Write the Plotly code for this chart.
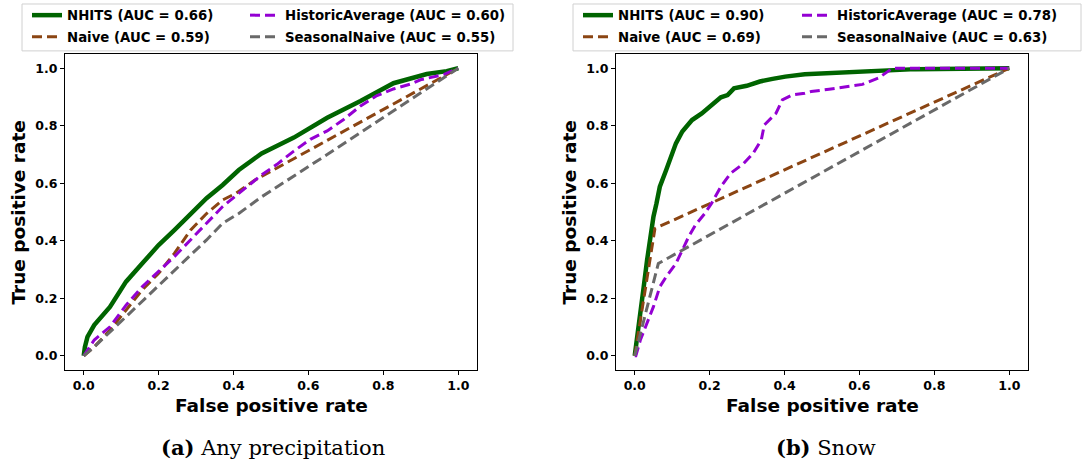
import plotly.graph_objects as go

W, H = 1084, 464

# ---------------- data ----------------
models = ["NHITS", "Naive", "HistoricAverage", "SeasonalNaive"]
auc_a = {"NHITS": 0.66, "Naive": 0.59, "HistoricAverage": 0.60, "SeasonalNaive": 0.55}
auc_b = {"NHITS": 0.90, "Naive": 0.69, "HistoricAverage": 0.78, "SeasonalNaive": 0.63}

# panel (a) Any precipitation
nhits_a_fpr = [0, 0.003, 0.01, 0.028, 0.07, 0.113, 0.156, 0.2, 0.242, 0.285, 0.328, 0.371,
               0.414, 0.457, 0.475, 0.561, 0.65, 0.739, 0.827, 0.916, 0.969, 1.0]
nhits_a_tpr = [0, 0.03, 0.066, 0.107, 0.17, 0.258, 0.321, 0.385, 0.437, 0.495, 0.548, 0.594,
               0.646, 0.687, 0.704, 0.759, 0.828, 0.886, 0.948, 0.98, 0.99, 1.0]
naive_a_fpr = [0, 0.028, 0.07, 0.113, 0.156, 0.2, 0.242, 0.285, 0.328, 0.371, 0.406, 0.457,
               0.65, 0.8, 0.9, 1.0]
naive_a_tpr = [0, 0.031, 0.089, 0.159, 0.229, 0.287, 0.356, 0.437, 0.495, 0.542, 0.565, 0.611,
               0.75, 0.857, 0.93, 1.0]
hist_a_fpr = [0, 0.028, 0.07, 0.113, 0.156, 0.2, 0.242, 0.285, 0.328, 0.371, 0.414, 0.457,
              0.475, 0.516, 0.561, 0.605, 0.65, 0.694, 0.739, 0.783, 0.827, 0.872, 0.899,
              0.961, 1.0]
hist_a_tpr = [0, 0.055, 0.101, 0.176, 0.24, 0.292, 0.345, 0.403, 0.46, 0.519, 0.565, 0.611,
              0.629, 0.666, 0.712, 0.753, 0.782, 0.822, 0.869, 0.905, 0.928, 0.945, 0.96,
              0.978, 1.0]
seas_a_fpr = [0, 0.028, 0.113, 0.2, 0.285, 0.328, 0.371, 0.414, 0.475, 0.65, 0.8, 0.9, 1.0]
seas_a_tpr = [0, 0.031, 0.136, 0.246, 0.35, 0.403, 0.461, 0.495, 0.553, 0.70, 0.83, 0.915, 1.0]

# panel (b) Snow
nhits_b_fpr = [0, 0.007, 0.015, 0.024, 0.033, 0.041, 0.05, 0.058, 0.067, 0.084, 0.101, 0.11,
               0.127, 0.153, 0.179, 0.205, 0.23, 0.248, 0.265, 0.299, 0.334, 0.368, 0.402,
               0.454, 0.55, 0.65, 0.75, 1.0]
nhits_b_tpr = [0, 0.078, 0.159, 0.24, 0.333, 0.414, 0.484, 0.53, 0.588, 0.646, 0.704, 0.739,
               0.78, 0.82, 0.843, 0.872, 0.899, 0.907, 0.93, 0.939, 0.954, 0.963, 0.971,
               0.979, 0.985, 0.99, 0.997, 1.0]
naive_b_fpr = [0, 0.054, 1.0]
naive_b_tpr = [0, 0.443, 1.0]
hist_b_fpr = [0, 0.003, 0.015, 0.033, 0.05, 0.067, 0.084, 0.11, 0.127, 0.144, 0.162, 0.187,
              0.205, 0.23, 0.256, 0.291, 0.316, 0.338, 0.346, 0.377, 0.394, 0.42, 0.454,
              0.471, 0.519, 0.563, 0.608, 0.652, 0.688, 1.0]
hist_b_tpr = [0, 0.0, 0.055, 0.113, 0.171, 0.24, 0.275, 0.321, 0.367, 0.414, 0.455, 0.495,
              0.53, 0.588, 0.635, 0.669, 0.704, 0.751, 0.803, 0.843, 0.89, 0.907, 0.913,
              0.919, 0.927, 0.935, 0.944, 0.967, 1.0, 1.0]
seas_b_fpr = [0, 0.063, 1.0]
seas_b_tpr = [0, 0.321, 1.0]

x_ticks = [0.0, 0.2, 0.4, 0.6, 0.8, 1.0]
y_ticks = [0.0, 0.2, 0.4, 0.6, 0.8, 1.0]
captions = ["<b>(a)</b> Any precipitation", "<b>(b)</b> Snow"]

# ---------------- style ----------------
styles = {
    "NHITS": dict(color="#006400", width=4.5, dash="solid"),
    "Naive": dict(color="#8B4513", width=3, dash="10px,5px"),
    "HistoricAverage": dict(color="#9400D3", width=3, dash="10px,5px"),
    "SeasonalNaive": dict(color="#696969", width=3, dash="10px,5px"),
}

def px_x(p):
    return p / W

def px_y(p):
    return 1 - p / H

fig = go.Figure()

panels = [
    dict(xa="x", ya="y", auc=auc_a, data={
        "NHITS": (nhits_a_fpr, nhits_a_tpr),
        "Naive": (naive_a_fpr, naive_a_tpr),
        "HistoricAverage": (hist_a_fpr, hist_a_tpr),
        "SeasonalNaive": (seas_a_fpr, seas_a_tpr)},
        legs={"NHITS": "legend", "Naive": "legend2", "HistoricAverage": "legend3",
              "SeasonalNaive": "legend4"}),
    dict(xa="x2", ya="y2", auc=auc_b, data={
        "NHITS": (nhits_b_fpr, nhits_b_tpr),
        "Naive": (naive_b_fpr, naive_b_tpr),
        "HistoricAverage": (hist_b_fpr, hist_b_tpr),
        "SeasonalNaive": (seas_b_fpr, seas_b_tpr)},
        legs={"NHITS": "legend5", "Naive": "legend6", "HistoricAverage": "legend7",
              "SeasonalNaive": "legend8"}),
]

for p in panels:
    for m in models:
        fx, ty = p["data"][m]
        fig.add_trace(go.Scatter(
            x=fx, y=ty, mode="lines", xaxis=p["xa"], yaxis=p["ya"],
            name=f"{m} (AUC = {p['auc'][m]:.2f})",
            line=styles[m], legend=p["legs"][m],
        ))

tickfont = dict(family="DejaVu Sans", size=12.5, color="black", weight="bold")
ax_common = dict(range=[-0.05, 1.05], showgrid=False, zeroline=False, showline=True,
                 linecolor="black", linewidth=1, mirror=True, ticks="outside",
                 ticklen=4, tickwidth=1, tickcolor="black", tickfont=tickfont,
                 tickformat=".1f")

ydom = [px_y(370), px_y(53)]
fig.update_layout(
    xaxis=dict(domain=[px_x(65), px_x(477)], anchor="y", tickvals=x_ticks, **ax_common),
    yaxis=dict(domain=ydom, anchor="x", tickvals=y_ticks, **ax_common),
    xaxis2=dict(domain=[px_x(616), px_x(1028)], anchor="y2", tickvals=x_ticks, **ax_common),
    yaxis2=dict(domain=ydom, anchor="x2", tickvals=y_ticks, **ax_common),
)

legfont = dict(family="DejaVu Sans", size=13.3, color="black", weight="bold")
leg_common = dict(orientation="v", xanchor="left", yanchor="middle", font=legfont,
                  bgcolor="rgba(0,0,0,0)", borderwidth=0, itemwidth=30)
leg_pos = {
    "legend": (27, 15), "legend2": (27, 37), "legend3": (245, 15), "legend4": (245, 37),
    "legend5": (578, 15), "legend6": (578, 37), "legend7": (797, 15), "legend8": (797, 37),
}
fig.update_layout(**{k: dict(x=px_x(v[0]), y=px_y(v[1]), **leg_common)
                     for k, v in leg_pos.items()})

# legend frames
for x0, x1 in [(22, 513), (573, 1081)]:
    fig.add_shape(type="rect", xref="paper", yref="paper", layer="below",
                  x0=px_x(x0), x1=px_x(x1), y0=px_y(50), y1=px_y(3),
                  line=dict(color="#d0d0d0", width=1), fillcolor="white")

titlefont = dict(family="DejaVu Sans", size=18.5, color="black", weight="bold")
annos = []
for cx in [271, 822]:
    annos.append(dict(text="False positive rate", x=px_x(cx), y=px_y(405), xref="paper",
                      yref="paper", showarrow=False, font=titlefont,
                      xanchor="center", yanchor="middle"))
for cx in [19, 570]:
    annos.append(dict(text="True positive rate", x=px_x(cx), y=px_y(212), xref="paper",
                      yref="paper", showarrow=False, font=titlefont, textangle=-90,
                      xanchor="center", yanchor="middle"))
capfont = dict(family="DejaVu Serif", size=21, color="black")
for cx, txt in zip([273, 826], captions):
    annos.append(dict(text=txt, x=px_x(cx), y=px_y(447), xref="paper", yref="paper",
                      showarrow=False, font=capfont, xanchor="center", yanchor="middle"))

fig.update_layout(
    width=W, height=H, margin=dict(l=0, r=0, t=0, b=0),
    paper_bgcolor="white", plot_bgcolor="white", showlegend=True,
    annotations=annos,
)

fig.write_html("out.html", config={"displayModeBar": False},
               post_script="document.body.style.margin='0px';document.body.style.overflow='hidden';")
